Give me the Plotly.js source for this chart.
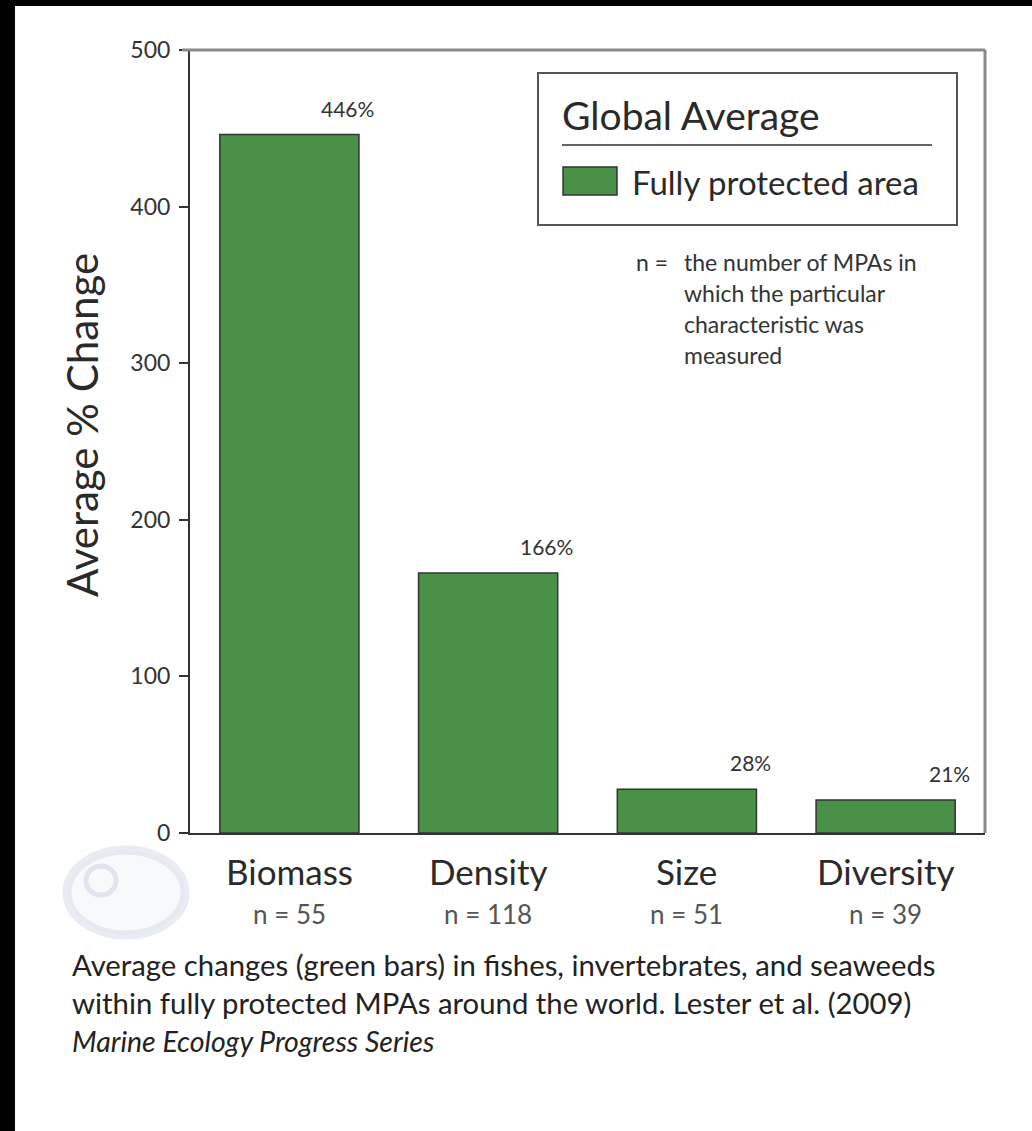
<!DOCTYPE html>
<html>
<head>
<meta charset="utf-8">
<script src="https://cdn.plot.ly/plotly-3.0.1.min.js"></script>
<style>
  html, body { margin: 0; padding: 0; background: #000; width: 1032px; height: 1131px; overflow: hidden; }
  #chart { position: absolute; left: 15px; top: 6px; width: 1017px; height: 1125px; background: #fff; }
</style>
</head>
<body>
<div id="chart"></div>
<script>
// ---- data ----
const categories = ["Biomass", "Density", "Size", "Diversity"];
const values = [446, 166, 28, 21];
const nCounts = [55, 118, 51, 39];
const yTickVals = [0, 100, 200, 300, 400, 500];
const seriesName = "Fully protected area";
const legendTitle = "Global Average";
const yTitle = "Average % Change";
const noteLines = ["the number of MPAs in", "which the particular", "characteristic was", "measured"];
const captionLines = [
  "Average changes (green bars) in fishes, invertebrates, and seaweeds",
  "within fully protected MPAs around the world. Lester et al. (2009)",
  "<i>Marine Ecology Progress Series</i>"
];

// ---- layout helpers (page pixels -> paper fraction of plot area) ----
const PX0 = 190, PX1 = 985, PY0 = 50, PY1 = 833;
const px = x => (x - PX0) / (PX1 - PX0);
const py = y => (PY1 - y) / (PY1 - PY0);

const FONT = "Lato, 'Open Sans', sans-serif";
const green = "rgb(74,145,72)";

const trace = {
  type: "bar",
  x: categories.map((c, i) => i),
  y: values,
  name: seriesName,
  width: 0.7,
  marker: { color: green, line: { color: "#333", width: 1.5 } },
  hoverinfo: "skip",
  showlegend: false
};

const annotations = [];
// value labels
values.forEach((v, i) => {
  annotations.push({
    x: i + 0.35, y: v, xref: "x", yref: "y",
    text: v + "%", showarrow: false,
    xanchor: "right", yanchor: "bottom", xshift: 17, yshift: 12,
    font: { family: FONT, size: 21, color: "#333" }
  });
});
// category labels & n labels
categories.forEach((c, i) => {
  annotations.push({
    x: i, y: py(871), xref: "x", yref: "paper", text: c, showarrow: false,
    xanchor: "center", yanchor: "middle",
    font: { family: FONT, size: 35, color: "#2a2a2a" }
  });
  annotations.push({
    x: i, y: py(914), xref: "x", yref: "paper", text: "n = " + nCounts[i], showarrow: false,
    xanchor: "center", yanchor: "middle",
    font: { family: FONT, size: 26, color: "#555" }
  });
});
// y title
annotations.push({
  x: px(82), y: py(425), xref: "paper", yref: "paper", text: yTitle, showarrow: false,
  textangle: -90, xanchor: "center", yanchor: "middle",
  font: { family: FONT, size: 42, color: "#2a2a2a" }
});
// legend text
annotations.push({
  x: px(560), y: py(115), xref: "paper", yref: "paper", text: legendTitle, showarrow: false,
  xanchor: "left", yanchor: "middle",
  font: { family: FONT, size: 39, color: "#2a2a2a" }
});
annotations.push({
  x: px(630), y: py(182), xref: "paper", yref: "paper", text: seriesName, showarrow: false,
  xanchor: "left", yanchor: "middle",
  font: { family: FONT, size: 33, color: "#2a2a2a" }
});
// note
annotations.push({
  x: px(634), y: py(262), xref: "paper", yref: "paper", text: "n =", showarrow: false,
  xanchor: "left", yanchor: "middle",
  font: { family: FONT, size: 23, color: "#333" }
});
const noteY = [262, 293, 324, 355];
noteLines.forEach((t, i) => {
  annotations.push({
    x: px(682), y: py(noteY[i]), xref: "paper", yref: "paper", text: t, showarrow: false,
    xanchor: "left", yanchor: "middle",
    font: { family: FONT, size: 23, color: "#333" }
  });
});
// caption
const capY = [964, 1003, 1041];
captionLines.forEach((t, i) => {
  annotations.push({
    x: px(70), y: py(capY[i]), xref: "paper", yref: "paper", text: t, showarrow: false,
    xanchor: "left", yanchor: "middle",
    font: { family: FONT, size: i === 2 ? 28.5 : 29.3, color: "#222" }
  });
});

const shapes = [
  // top and right frame
  { type: "line", xref: "paper", yref: "paper", x0: px(182), x1: 1, y0: 1, y1: 1, line: { color: "#8a8a8a", width: 3 } },
  { type: "line", xref: "paper", yref: "paper", x0: 1, x1: 1, y0: 0, y1: 1, line: { color: "#8a8a8a", width: 3 } },
  // legend box
  { type: "rect", xref: "paper", yref: "paper", x0: px(538), x1: px(957), y0: py(225), y1: py(73), line: { color: "#555", width: 2 }, fillcolor: "rgba(255,255,255,0)" },
  { type: "line", xref: "paper", yref: "paper", x0: px(562), x1: px(932), y0: py(145), y1: py(145), line: { color: "#666", width: 2 } },
  { type: "rect", xref: "paper", yref: "paper", x0: px(563), x1: px(617), y0: py(195), y1: py(167), line: { color: "#333", width: 1.5 }, fillcolor: green },
  // faint watermark logo
  { type: "circle", xref: "paper", yref: "paper", x0: px(67), x1: px(185), y0: py(935), y1: py(850), line: { color: "rgba(215,220,232,0.55)", width: 9 }, fillcolor: "rgba(242,244,248,0.5)", layer: "below" },
  { type: "circle", xref: "paper", yref: "paper", x0: px(86), x1: px(116), y0: py(895), y1: py(866), line: { color: "rgba(215,220,232,0.7)", width: 5 }, fillcolor: "rgba(0,0,0,0)", layer: "below" }
];

const layout = {
  width: 1017, height: 1125,
  margin: { l: 175, r: 47, t: 44, b: 298 },
  paper_bgcolor: "#fff", plot_bgcolor: "#fff",
  showlegend: false,
  bargap: 0.3,
  font: { family: FONT, color: "#333" },
  xaxis: {
    range: [-0.5, 3.5], showgrid: false, zeroline: false,
    showticklabels: false, ticks: "",
    showline: true, linecolor: "#333", linewidth: 2, fixedrange: true
  },
  yaxis: {
    range: [0, 500], tickvals: yTickVals, showgrid: false, zeroline: false,
    showline: true, linecolor: "#333", linewidth: 2,
    ticks: "outside", ticklen: 9, tickwidth: 2, tickcolor: "#333",
    tickfont: { family: FONT, size: 23, color: "#333" },
    ticklabelstandoff: 4, fixedrange: true
  },
  annotations: annotations,
  shapes: shapes
};

Plotly.newPlot("chart", [trace], layout, { displayModeBar: false, staticPlot: true });
</script>
</body>
</html>
